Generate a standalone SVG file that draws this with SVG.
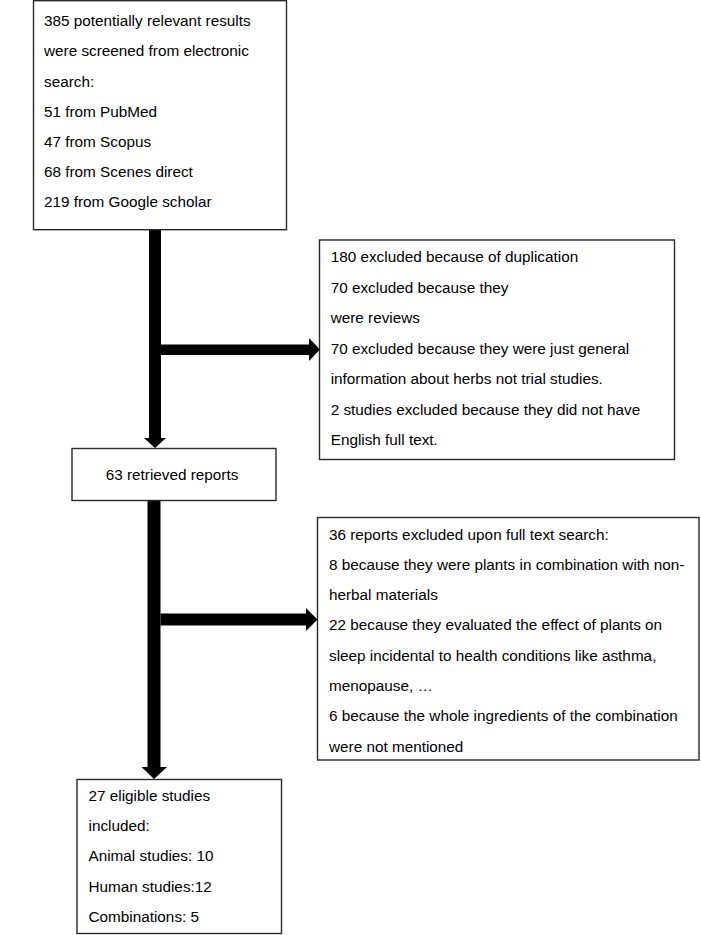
<svg xmlns="http://www.w3.org/2000/svg" width="701" height="935" viewBox="0 0 701 935">
<style>
.box{fill:#fff;stroke:#2a2a2a;stroke-width:1.4}
.t{font-family:"Liberation Sans",Arial,sans-serif;font-size:15.3px;fill:#000}
.arr{fill:#000;stroke:none}
</style>
<rect width="701" height="935" fill="#fff"/>
<g id="connectors">
<polygon class="arr" points="149,229 161,229 161,438 166,438 155,448 144,438 149,438"/>
<polygon class="arr" points="161,344.5 309,344.5 309,338 320,349.5 309,361 309,355 161,355"/>
<polygon class="arr" points="147.5,500 160.5,500 160.5,767 167,767 154,779 141.5,767 147.5,767"/>
<polygon class="arr" points="160.5,613.5 306,613.5 306,608 317.5,619.5 306,631 306,625.5 160.5,625.5"/>
</g>
<g id="node-search">
<rect class="box" x="33.5" y="0.7" width="253" height="229"/>
<text class="t" x="44" y="26">385 potentially relevant results</text>
<text class="t" x="44" y="56">were screened from electronic</text>
<text class="t" x="44" y="86.5">search:</text>
<text class="t" x="44" y="116.5">51 from PubMed</text>
<text class="t" x="44" y="146.5">47 from Scopus</text>
<text class="t" x="44" y="177">68 from Scenes direct</text>
<text class="t" x="44" y="207">219 from Google scholar</text>
</g>
<g id="node-excluded1">
<rect class="box" x="319.5" y="240" width="355" height="219.5"/>
<text class="t" x="330.7" y="262">180 excluded because of duplication</text>
<text class="t" x="330.7" y="292.5">70 excluded because they</text>
<text class="t" x="330.7" y="323">were reviews</text>
<text class="t" x="330.7" y="353.5">70 excluded because they were just general</text>
<text class="t" x="330.7" y="384">information about herbs not trial studies.</text>
<text class="t" x="330.7" y="414.5">2 studies excluded because they did not have</text>
<text class="t" x="330.7" y="445">English full text.</text>
</g>
<g id="node-retrieved">
<rect class="box" x="72" y="448.5" width="204" height="52"/>
<text class="t" x="105.7" y="480">63 retrieved reports</text>
</g>
<g id="node-excluded2">
<rect class="box" x="317.5" y="517.5" width="381.5" height="242.5"/>
<text class="t" x="329" y="539.5">36 reports excluded upon full text search:</text>
<text class="t" x="329" y="569.8">8 because they were plants in combination with non-</text>
<text class="t" x="329" y="600.1">herbal materials</text>
<text class="t" x="329" y="630.4">22 because they evaluated the effect of plants on</text>
<text class="t" x="329" y="660.7">sleep incidental to health conditions like asthma,</text>
<text class="t" x="329" y="691">menopause, …</text>
<text class="t" x="329" y="721.3">6 because the whole ingredients of the combination</text>
<text class="t" x="329" y="751.6">were not mentioned</text>
</g>
<g id="node-included">
<rect class="box" x="77" y="779.5" width="204.5" height="154"/>
<text class="t" x="88.5" y="801">27 eligible studies</text>
<text class="t" x="88.5" y="831">included:</text>
<text class="t" x="88.5" y="861">Animal studies: 10</text>
<text class="t" x="88.5" y="891.5">Human studies:12</text>
<text class="t" x="88.5" y="921.5">Combinations: 5</text>
</g>
</svg>
